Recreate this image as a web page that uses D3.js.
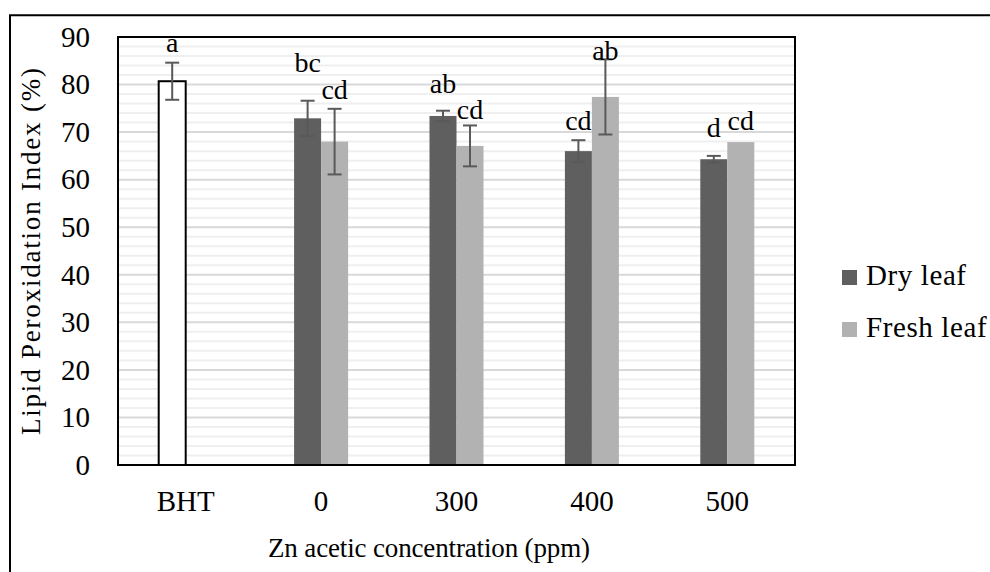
<!DOCTYPE html>
<html>
<head>
<meta charset="utf-8">
<script src="https://cdn.jsdelivr.net/npm/d3@7/dist/d3.min.js"></script>
<style>
  html, body { margin: 0; padding: 0; background: #fff; }
  svg { display: block; }
</style>
</head>
<body>
<div id="chart"></div>
<script>
// Data
const categories = ['BHT', '0', '300', '400', '500'];
const seriesNames = ['Dry leaf', 'Fresh leaf'];
const dryLeaf = [null, 72.9, 73.4, 66.0, 64.3];
const dryErr = [null, 3.7, 1.1, 2.3, 0.7];
const freshLeaf = [null, 68.0, 67.1, 77.4, 67.9];
const freshErr = [null, 6.9, 4.3, 7.9, 0];
const bhtValue = 80.7;
const bhtErr = 3.9;
// significance letters and the value level they sit at
const bhtLetter = 'a';
const bhtLetterAt = 86.8;
const dryLetters = ['', 'bc', 'ab', 'cd', 'd'];
const dryLetterAt = [null, 82.6, 78.2, 70.4, 69.0];
const freshLetters = ['', 'cd', 'cd', 'ab', 'cd'];
const freshLetterAt = [null, 77.0, 72.8, 85.2, 70.4];
const yTicks = [0, 10, 20, 30, 40, 50, 60, 70, 80, 90];

const width = 990, height = 572;
const plot = { left: 118, right: 795, top: 37, bottom: 465 };
const barW = 27;
const colors = { 'Dry leaf': '#5f5f5f', 'Fresh leaf': '#b2b2b2' };
const FONT = 'Liberation Serif';

const svg = d3.select('#chart').append('svg')
    .attr('width', width)
    .attr('height', height)
    .attr('font-family', FONT);

// outer frame (runs off the right and bottom edges)
svg.append('path')
    .attr('d', `M10,${height + 5}V15.3H${width + 5}`)
    .attr('fill', 'none')
    .attr('stroke', '#000')
    .attr('stroke-width', 2);

const y = d3.scaleLinear().domain([0, 90]).range([plot.bottom, plot.top]);
const x = d3.scaleBand().domain(categories).range([plot.left, plot.right]);
const xs = d3.scaleBand().domain(seriesNames)
    .range([x.bandwidth() / 2 - barW, x.bandwidth() / 2 + barW]);

// gridlines: minor every 2, major every 10
const grid = svg.append('g');
grid.selectAll('line.minor')
    .data(d3.range(2, 90, 2).filter(v => v % 10 !== 0))
    .enter().append('line')
    .attr('x1', plot.left).attr('x2', plot.right)
    .attr('y1', d => y(d)).attr('y2', d => y(d))
    .attr('stroke', '#efefef').attr('stroke-width', 2);
grid.selectAll('line.major')
    .data(yTicks.filter(v => v > 0 && v < 90))
    .enter().append('line')
    .attr('x1', plot.left).attr('x2', plot.right)
    .attr('y1', d => y(d)).attr('y2', d => y(d))
    .attr('stroke', '#d9d9d9').attr('stroke-width', 2);

// build flat list of bars
const bars = [];
bars.push({ cat: 'BHT', series: 'Dry leaf', value: bhtValue, err: bhtErr, letter: bhtLetter, letterAt: bhtLetterAt, bht: true });
categories.forEach((c, i) => {
    if (dryLeaf[i] != null) bars.push({ cat: c, series: 'Dry leaf', value: dryLeaf[i], err: dryErr[i], letter: dryLetters[i], letterAt: dryLetterAt[i] });
    if (freshLeaf[i] != null) bars.push({ cat: c, series: 'Fresh leaf', value: freshLeaf[i], err: freshErr[i], letter: freshLetters[i], letterAt: freshLetterAt[i] });
});
const barX = d => x(d.cat) + xs(d.series);
const barCx = d => barX(d) + xs.bandwidth() / 2;

svg.append('g').selectAll('rect')
    .data(bars)
    .enter().append('rect')
    .attr('x', barX)
    .attr('width', xs.bandwidth())
    .attr('y', d => y(d.value))
    .attr('height', d => y(0) - y(d.value))
    .attr('fill', d => d.bht ? '#fff' : colors[d.series])
    .attr('stroke', d => d.bht ? '#000' : 'none')
    .attr('stroke-width', 2);

// error bars
const eb = svg.append('g')
    .attr('stroke', '#595959')
    .attr('stroke-width', 2)
    .selectAll('g')
    .data(bars.filter(d => d.err > 0))
    .enter().append('g');
eb.append('line')
    .attr('x1', barCx).attr('x2', barCx)
    .attr('y1', d => y(d.value + d.err)).attr('y2', d => y(d.value - d.err));
eb.append('line')
    .attr('x1', d => barCx(d) - 7).attr('x2', d => barCx(d) + 7)
    .attr('y1', d => y(d.value + d.err)).attr('y2', d => y(d.value + d.err));
eb.append('line')
    .attr('x1', d => barCx(d) - 7).attr('x2', d => barCx(d) + 7)
    .attr('y1', d => y(d.value - d.err)).attr('y2', d => y(d.value - d.err));

// letters
svg.append('g').selectAll('text')
    .data(bars)
    .enter().append('text')
    .attr('x', barCx)
    .attr('y', d => y(d.letterAt))
    .attr('text-anchor', 'middle')
    .attr('font-family', FONT)
    .attr('font-size', 28)
    .attr('fill', '#000')
    .text(d => d.letter);

// plot frame
svg.append('rect')
    .attr('x', plot.left).attr('y', plot.top)
    .attr('width', plot.right - plot.left)
    .attr('height', plot.bottom - plot.top)
    .attr('fill', 'none')
    .attr('stroke', '#000')
    .attr('stroke-width', 2);

// y axis labels
const yAxis = svg.append('g')
    .attr('transform', `translate(${plot.left},0)`)
    .call(d3.axisLeft(y).tickValues(yTicks).tickSize(0).tickPadding(28))
    .attr('font-family', FONT)
    .attr('font-size', 29);
yAxis.select('.domain').remove();
yAxis.selectAll('text').attr('fill', '#000');

// x axis labels
const xAxis = svg.append('g')
    .attr('transform', `translate(0,${plot.bottom})`)
    .call(d3.axisBottom(x).tickSize(0).tickPadding(25))
    .attr('font-family', FONT)
    .attr('font-size', 29);
xAxis.select('.domain').remove();
xAxis.selectAll('text').attr('fill', '#000');

// axis titles
svg.append('text')
    .attr('transform', 'translate(40,251.5) rotate(-90)')
    .attr('text-anchor', 'middle')
    .attr('font-family', FONT)
    .attr('font-size', 27)
    .attr('textLength', 367)
    .attr('lengthAdjust', 'spacing')
    .attr('fill', '#000')
    .text('Lipid Peroxidation Index (%)');

svg.append('text')
    .attr('x', 429)
    .attr('y', 557)
    .attr('text-anchor', 'middle')
    .attr('font-family', FONT)
    .attr('font-size', 27)
    .attr('textLength', 322)
    .attr('lengthAdjust', 'spacing')
    .attr('fill', '#000')
    .text('Zn acetic concentration (ppm)');

// legend
const legend = svg.append('g')
    .selectAll('g')
    .data(seriesNames)
    .enter().append('g')
    .attr('transform', (d, i) => `translate(842,${270 + i * 52})`);
legend.append('rect')
    .attr('width', 15).attr('height', 15)
    .attr('fill', d => colors[d]);
legend.append('text')
    .attr('x', 24)
    .attr('y', 15)
    .attr('font-family', FONT)
    .attr('font-size', 29)
    .attr('letter-spacing', 0.6)
    .attr('fill', '#000')
    .text(d => d);
</script>
</body>
</html>
